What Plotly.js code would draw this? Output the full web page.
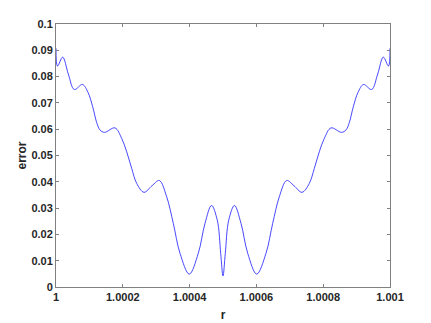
<!DOCTYPE html>
<html>
<head>
<meta charset="utf-8">
<script src="https://cdn.plot.ly/plotly-3.0.1.min.js"></script>
<style>
  html, body { margin: 0; padding: 0; background: #fff; }
  #chart { width: 431px; height: 323px; }
</style>
</head>
<body>
<div id="chart"></div>
<script>
// curve (r, error)
var r = [
  1.0, 1.0000045, 1.00002, 1.0000368, 1.0000548, 1.0000793, 1.0000958, 1.0001099,
  1.0001219, 1.0001317, 1.0001452, 1.0001766, 1.0001967, 1.0002117, 1.0002266,
  1.0002416, 1.0002635, 1.0002874, 1.0003093, 1.0003314, 1.0003512, 1.0003713,
  1.0003991, 1.000426, 1.0004461, 1.0004656, 1.0004829, 1.0004931, 1.0005,
  1.0005069, 1.0005171, 1.0005344, 1.0005539, 1.000574, 1.0006009, 1.0006287,
  1.0006488, 1.0006686, 1.0006907, 1.0007126, 1.0007365, 1.0007584, 1.0007734,
  1.0007883, 1.0008033, 1.0008234, 1.0008548, 1.0008683, 1.0008781, 1.0008901,
  1.0009042, 1.0009207, 1.0009452, 1.0009632, 1.00098, 1.0009955, 1.001
];
var err = [
  0.0908, 0.0840, 0.0874, 0.0810, 0.0751, 0.0770, 0.0740, 0.0685,
  0.0625, 0.0597, 0.0588, 0.0605, 0.0565, 0.0514, 0.0451,
  0.0394, 0.0360, 0.0385, 0.0405, 0.0343, 0.0242, 0.0128,
  0.0049, 0.0128, 0.0242, 0.0310, 0.0254, 0.0128, 0.0042,
  0.0128, 0.0254, 0.0310, 0.0242, 0.0128, 0.0049, 0.0128,
  0.0242, 0.0343, 0.0405, 0.0385, 0.0360, 0.0394, 0.0451,
  0.0514, 0.0565, 0.0605, 0.0588, 0.0597, 0.0625, 0.0685,
  0.0740, 0.0770, 0.0751, 0.0810, 0.0874, 0.0840, 0.0908
];

var xTicks = [1, 1.0002, 1.0004, 1.0006, 1.0008, 1.001];
var xTickText = ['1', '1.0002', '1.0004', '1.0006', '1.0008', '1.001'];
var yTicks = [0, 0.01, 0.02, 0.03, 0.04, 0.05, 0.06, 0.07, 0.08, 0.09, 0.1];
var yTickText = ['0', '0.01', '0.02', '0.03', '0.04', '0.05', '0.06', '0.07', '0.08', '0.09', '0.1'];

var tickFont = { family: 'Liberation Sans, Arial, sans-serif', size: 11, color: '#262626', weight: 'bold' };
var titleFont = { family: 'Liberation Sans, Arial, sans-serif', size: 12, color: '#262626', weight: 'bold' };

var data = [{
  type: 'scatter',
  mode: 'lines',
  x: r,
  y: err,
  line: { color: '#1a1aff', width: 0.8, shape: 'spline', smoothing: 1 },
  hoverinfo: 'skip'
}];

var layout = {
  width: 431,
  height: 323,
  margin: { l: 56, r: 41, t: 24, b: 36 },
  paper_bgcolor: '#ffffff',
  plot_bgcolor: '#ffffff',
  showlegend: false,
  xaxis: {
    range: [1, 1.001],
    tickvals: xTicks,
    ticktext: xTickText,
    ticks: 'inside',
    ticklen: 3,
    tickcolor: '#808080',
    showline: true,
    linecolor: '#808080',
    linewidth: 1,
    mirror: 'ticks',
    showgrid: false,
    zeroline: false,
    tickfont: tickFont,
    title: { text: 'r', font: titleFont, standoff: 8 }
  },
  yaxis: {
    range: [0, 0.1],
    tickvals: yTicks,
    ticktext: yTickText,
    ticks: 'inside',
    ticklen: 3,
    tickcolor: '#808080',
    showline: true,
    linecolor: '#808080',
    linewidth: 1,
    mirror: 'ticks',
    showgrid: false,
    zeroline: false,
    tickfont: tickFont,
    title: { text: 'error', font: titleFont, standoff: 2 }
  }
};

Plotly.newPlot('chart', data, layout, { staticPlot: true, displayModeBar: false });
</script>
</body>
</html>
